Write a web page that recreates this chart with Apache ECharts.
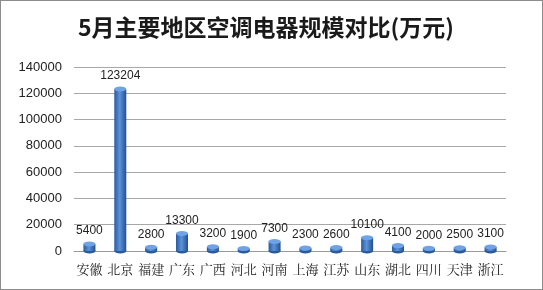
<!DOCTYPE html>
<html>
<head>
<meta charset="utf-8">
<script src="https://cdn.jsdelivr.net/npm/echarts@6/dist/echarts.min.js"></script>
<style>
html, body { margin: 0; padding: 0; background: #fff; }
#main { width: 541px; height: 288px; border: 1px solid #8c8c8c; }
</style>
</head>
<body>
<div id="main"></div>
<script>
// 地区
var regions = ['安徽', '北京', '福建', '广东', '广西', '河北', '河南', '上海', '江苏', '山东', '湖北', '四川', '天津', '浙江'];
// 规模(万元)
var values = [5400, 123204, 2800, 13300, 3200, 1900, 7300, 2300, 2600, 10100, 4100, 2000, 2500, 3100];
var yTicks = [0, 20000, 40000, 60000, 80000, 100000, 120000, 140000];

var myChart = echarts.init(document.getElementById('main'));

var bodyColor = new echarts.graphic.LinearGradient(0, 0, 1, 0, [
	{offset: 0, color: '#2a5a9a'},
	{offset: 0.45, color: '#5b93dc'},
	{offset: 1, color: '#23508c'}
]);

var option = {
	animation: false,
	title: {
		text: '5月主要地区空调电器规模对比(万元)',
		left: 72,
		top: 10,
		textStyle: {
			fontFamily: 'Noto Sans CJK SC',
			fontSize: 23,
			fontWeight: 'bold',
			color: '#1a1a1a'
		}
	},
	grid: {
		left: 73,
		right: 36,
		top: 66,
		bottom: 38
	},
	xAxis: {
		type: 'category',
		data: regions,
		axisLine: {lineStyle: {color: '#9a9a9a'}},
		axisTick: {show: false},
		axisLabel: {
			interval: 0,
			margin: 12,
			fontFamily: 'Noto Serif CJK SC, Noto Sans CJK SC',
			fontSize: 13,
			color: '#222'
		}
	},
	yAxis: {
		type: 'value',
		min: yTicks[0],
		max: yTicks[yTicks.length - 1],
		interval: 20000,
		axisLine: {show: false},
		axisTick: {show: false},
		splitLine: {lineStyle: {color: '#a8a8a8'}},
		axisLabel: {
			margin: 12,
			fontFamily: 'Liberation Sans',
			fontSize: 13,
			color: '#222',
			formatter: function (v) { return String(v); }
		}
	},
	series: [
		{
			name: '规模',
			type: 'bar',
			data: values,
			barWidth: 12,
			itemStyle: {color: bodyColor},
			label: {
				show: true,
				position: 'top',
				distance: 7,
				fontFamily: 'Liberation Sans',
				fontSize: 12,
				color: '#222'
			},
			z: 2
		},
		{
			name: '顶',
			type: 'pictorialBar',
			data: values,
			symbol: 'circle',
			symbolSize: [12, 5],
			symbolPosition: 'end',
			symbolOffset: [0, '-50%'],
			itemStyle: {color: '#6fa3e6'},
			z: 3,
			silent: true
		},
		{
			name: '底',
			type: 'pictorialBar',
			data: values,
			symbol: 'circle',
			symbolSize: [12, 5],
			symbolOffset: [0, '50%'],
			itemStyle: {color: '#2a5a9a'},
			z: 1,
			silent: true
		}
	]
};

if (option && typeof option === "object") {
	myChart.setOption(option, true);
}
</script>
</body>
</html>
